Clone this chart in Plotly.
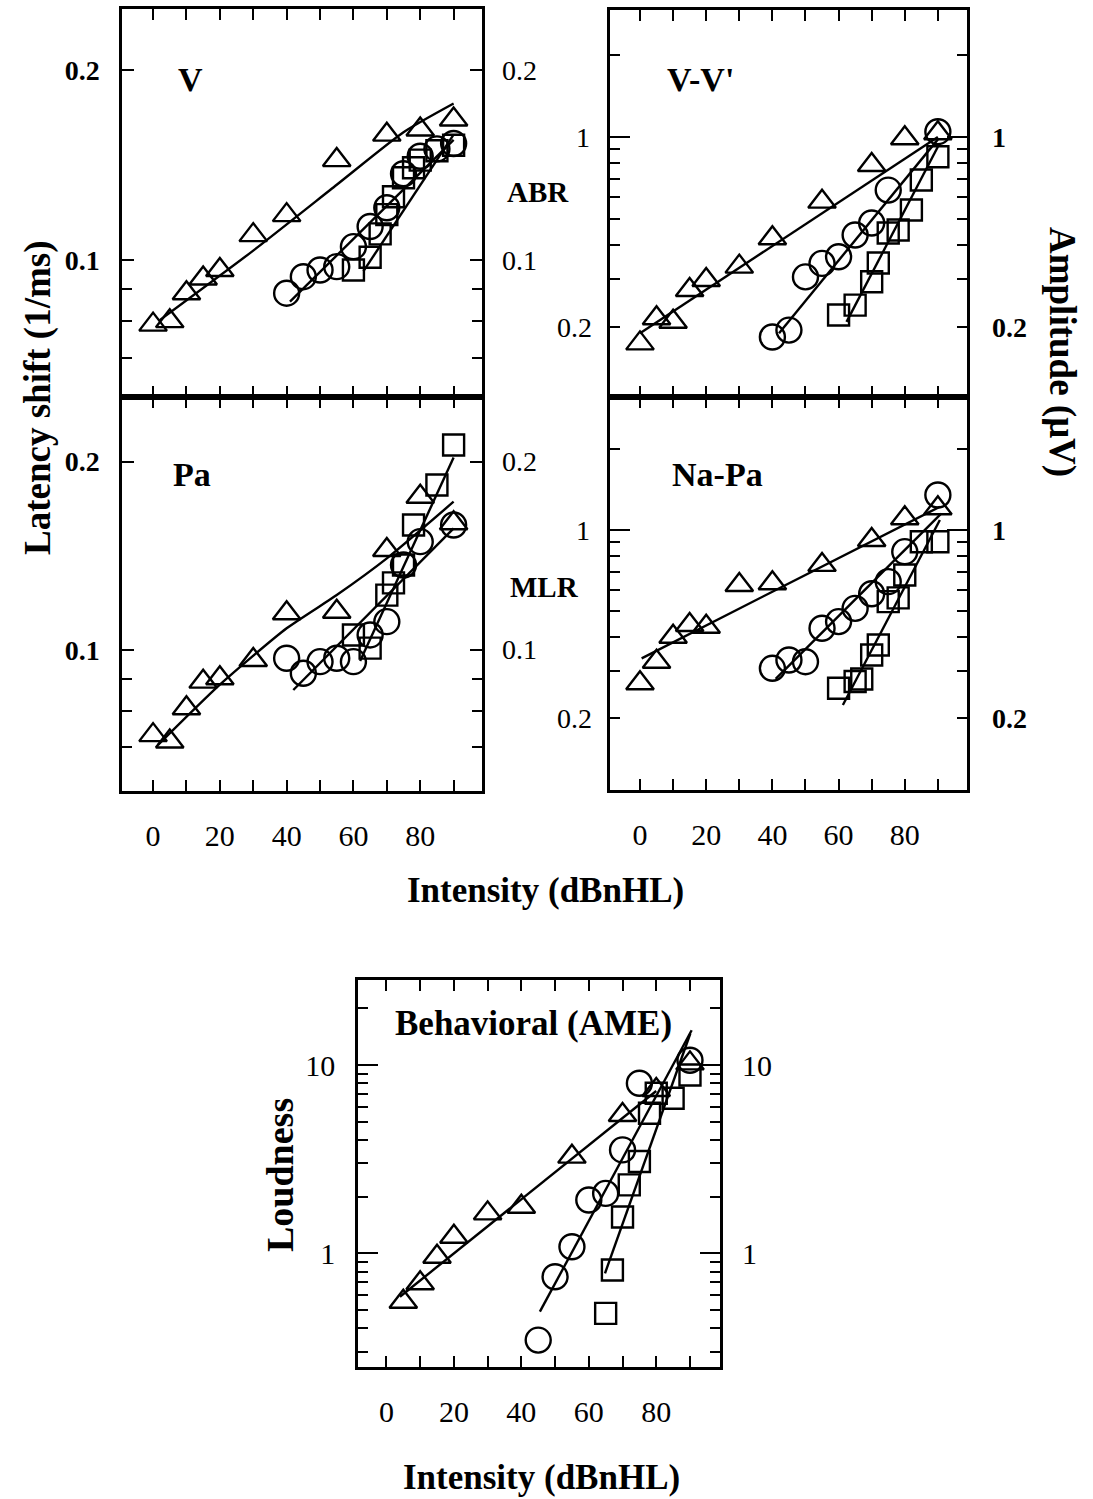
import math
import plotly.graph_objects as go

W, H = 1093, 1499
FONT = "Liberation Serif"

# ---------------- data ----------------
# Panel V (ABR latency)
v_tri_x = [0, 5, 10, 15, 20, 30, 40, 55, 70, 80, 90]
v_tri_y = [0.079, 0.080, 0.0886, 0.0935, 0.0964, 0.1095, 0.1178, 0.144, 0.158, 0.161, 0.167]
v_tri_fit_x = [2, 30, 55, 75, 90]
v_tri_fit_y = [0.0803, 0.1035, 0.1316, 0.1594, 0.177]
v_cir_x = [40, 45, 50, 55, 60, 65, 70, 75, 80, 85, 90]
v_cir_y = [0.0886, 0.0941, 0.0964, 0.0976, 0.105, 0.113, 0.121, 0.137, 0.146, 0.150, 0.153]
v_cir_fit_x = [41, 90]
v_cir_fit_y = [0.0859, 0.155]
v_sq_x = [60, 65, 68, 70, 72, 75, 78, 80, 85, 90]
v_sq_y = [0.0964, 0.101, 0.110, 0.118, 0.126, 0.135, 0.140, 0.144, 0.149, 0.152]
v_sq_fit_x = [63, 90]
v_sq_fit_y = [0.096, 0.158]

# Panel Pa (MLR latency)
pa_tri_x = [0, 5, 10, 15, 20, 30, 40, 55, 70, 80, 90]
pa_tri_y = [0.0731, 0.0714, 0.0807, 0.089, 0.0901, 0.0964, 0.1145, 0.1151, 0.1445, 0.1758, 0.1594]
pa_tri_fit_x = [1.5, 20, 40, 55, 70, 90]
pa_tri_fit_y = [0.0705, 0.088, 0.1083, 0.1224, 0.1401, 0.1726]
pa_cir_x = [40, 45, 50, 55, 60, 65, 70, 75, 80, 90]
pa_cir_y = [0.097, 0.0918, 0.0958, 0.097, 0.0958, 0.1057, 0.111, 0.1367, 0.149, 0.1584]
pa_cir_fit_x = [42, 90]
pa_cir_fit_y = [0.0863, 0.1565]
pa_sq_x = [60, 65, 70, 72, 75, 78, 85, 90]
pa_sq_y = [0.1057, 0.1007, 0.1224, 0.128, 0.1367, 0.1584, 0.1835, 0.2127]
pa_sq_fit_x = [62, 90]
pa_sq_fit_y = [0.096, 0.203]

# Panel V-V' (ABR amplitude)
vv_tri_x = [0, 5, 10, 15, 20, 30, 40, 55, 70, 80, 90]
vv_tri_y = [0.1743, 0.2155, 0.2094, 0.274, 0.298, 0.3337, 0.4241, 0.5784, 0.789, 0.989, 1.032]
vv_tri_fit_x = [0, 90]
vv_tri_fit_y = [0.19, 1.0]
vv_cir_x = [40, 45, 50, 55, 60, 65, 70, 75, 90]
vv_cir_y = [0.184, 0.195, 0.306, 0.343, 0.363, 0.436, 0.483, 0.638, 1.046]
vv_cir_fit_x = [42, 90]
vv_cir_fit_y = [0.19, 0.98]
vv_sq_x = [60, 65, 70, 72, 75, 78, 82, 85, 90]
vv_sq_y = [0.2216, 0.241, 0.2938, 0.344, 0.4436, 0.455, 0.539, 0.695, 0.846]
vv_sq_fit_x = [62.4, 90]
vv_sq_fit_y = [0.209, 0.921]

# Panel Na-Pa (MLR amplitude)
np_tri_x = [0, 5, 10, 15, 20, 30, 40, 55, 70, 80, 90]
np_tri_y = [0.27, 0.3245, 0.4018, 0.444, 0.4375, 0.625, 0.634, 0.742, 0.918, 1.105, 1.2036]
np_tri_fit_x = [0.5, 40, 90.6]
np_tri_fit_y = [0.334, 0.59, 1.22]
np_cir_x = [40, 45, 50, 55, 60, 65, 70, 75, 80, 90]
np_cir_y = [0.3066, 0.3292, 0.3245, 0.4316, 0.457, 0.512, 0.58, 0.643, 0.831, 1.349]
np_cir_fit_x = [41, 91]
np_cir_fit_y = [0.28, 1.15]
np_sq_x = [60, 65, 67, 70, 72, 75, 78, 80, 85, 90]
np_sq_y = [0.2585, 0.274, 0.28, 0.3435, 0.374, 0.542, 0.56, 0.681, 0.905, 0.905]
np_sq_fit_x = [61.3, 90.6]
np_sq_fit_y = [0.224, 1.089]

# Panel Behavioral (AME) loudness
ame_tri_x = [5, 10, 15, 20, 30, 40, 55, 70, 80, 90]
ame_tri_y = [0.553, 0.693, 0.959, 1.225, 1.63, 1.768, 3.26, 5.43, 7.36, 10.2]
ame_tri_fit_x = [4, 80]
ame_tri_fit_y = [0.588, 7.28]
ame_cir_x = [45, 50, 55, 60, 65, 70, 75, 90]
ame_cir_y = [0.346, 0.751, 1.084, 1.92, 2.08, 3.54, 8.0, 10.6]
ame_cir_fit_x = [45.5, 90.5]
ame_cir_fit_y = [0.49, 15.3]
ame_sq_x = [65, 67, 70, 72, 75, 78, 80, 85, 90]
ame_sq_y = [0.48, 0.815, 1.56, 2.31, 3.07, 5.54, 7.08, 6.66, 8.85]
ame_sq_fit_x = [64.8, 90.1]
ame_sq_fit_y = [0.783, 14.7]

x_tick_vals = [0, 10, 20, 30, 40, 50, 60, 70, 80, 90]
x_tick_text = ["0", "", "20", "", "40", "", "60", "", "80", ""]

# ---------------- figure ----------------
def fx(px):
    return px / W

def fy(py):
    return 1 - py / H

fig = go.Figure()

panels = [
    ("x", "y", v_tri_x, v_tri_y, v_tri_fit_x, v_tri_fit_y, v_cir_x, v_cir_y, v_cir_fit_x, v_cir_fit_y,
     v_sq_x, v_sq_y, v_sq_fit_x, v_sq_fit_y),
    ("x2", "y2", pa_tri_x, pa_tri_y, pa_tri_fit_x, pa_tri_fit_y, pa_cir_x, pa_cir_y, pa_cir_fit_x, pa_cir_fit_y,
     pa_sq_x, pa_sq_y, pa_sq_fit_x, pa_sq_fit_y),
    ("x3", "y3", vv_tri_x, vv_tri_y, vv_tri_fit_x, vv_tri_fit_y, vv_cir_x, vv_cir_y, vv_cir_fit_x, vv_cir_fit_y,
     vv_sq_x, vv_sq_y, vv_sq_fit_x, vv_sq_fit_y),
    ("x4", "y4", np_tri_x, np_tri_y, np_tri_fit_x, np_tri_fit_y, np_cir_x, np_cir_y, np_cir_fit_x, np_cir_fit_y,
     np_sq_x, np_sq_y, np_sq_fit_x, np_sq_fit_y),
    ("x5", "y5", ame_tri_x, ame_tri_y, ame_tri_fit_x, ame_tri_fit_y, ame_cir_x, ame_cir_y, ame_cir_fit_x, ame_cir_fit_y,
     ame_sq_x, ame_sq_y, ame_sq_fit_x, ame_sq_fit_y),
]

MW = 2.4
for (xa, ya, tx, ty, tfx, tfy, cx, cy, cfx, cfy, sx, sy, sfx, sfy) in panels:
    for fx_, fy_ in ((tfx, tfy), (cfx, cfy), (sfx, sfy)):
        fig.add_trace(go.Scatter(x=fx_, y=fy_, mode="lines", xaxis=xa, yaxis=ya,
                                 line=dict(color="black", width=2.4, shape="spline", smoothing=0.6),
                                 showlegend=False, hoverinfo="skip"))
    fig.add_trace(go.Scatter(x=sx, y=sy, mode="markers", xaxis=xa, yaxis=ya, showlegend=False,
                             marker=dict(symbol="square-open", size=21, color="black", line=dict(width=MW))))
    fig.add_trace(go.Scatter(x=cx, y=cy, mode="markers", xaxis=xa, yaxis=ya, showlegend=False,
                             marker=dict(symbol="circle-open", size=25, color="black", line=dict(width=MW))))
    fig.add_trace(go.Scatter(x=tx, y=ty, mode="markers", xaxis=xa, yaxis=ya, showlegend=False,
                             marker=dict(symbol="triangle-up-open", size=24, color="black", line=dict(width=MW))))

common_x = dict(showgrid=False, zeroline=False, showline=True, linecolor="black", linewidth=2.5,
                mirror="allticks", ticks="inside", ticklen=11, tickwidth=2, tickcolor="black",
                tickmode="array", tickvals=x_tick_vals, ticktext=x_tick_text,
                tickfont=dict(family=FONT, size=30, color="black"), ticklabelstandoff=16)
common_y = dict(showgrid=False, zeroline=False, showline=True, linecolor="black", linewidth=2.5,
                mirror="allticks", ticks="inside", tickwidth=2, tickcolor="black", type="log",
                tickmode="array")

lat_minor = dict(ticks="inside", ticklen=10, tickwidth=2, tickcolor="black", tickmode="array",
                 tickvals=[0.07, 0.08, 0.09], showgrid=False)
amp_minor = dict(ticks="inside", ticklen=10, tickwidth=2, tickcolor="black", tickmode="array",
                 tickvals=[0.2, 0.3, 0.4, 0.5, 0.6, 0.7, 0.8, 0.9, 2], showgrid=False)
loud_minor = dict(ticks="inside", ticklen=10, tickwidth=2, tickcolor="black", tickmode="array",
                  tickvals=[0.3, 0.4, 0.5, 0.6, 0.7, 0.8, 0.9, 2, 3, 4, 5, 6, 7, 8, 9, 20], showgrid=False)

lat_font = dict(family=FONT, size=28, color="black", weight="bold")

fig.update_layout(
    width=W, height=H, margin=dict(l=0, r=0, t=0, b=0),
    paper_bgcolor="white", plot_bgcolor="white", showlegend=False,
    xaxis=dict(common_x, domain=[fx(122), fx(482)], range=[-9.3, 98.5], anchor="y", showticklabels=False),
    yaxis=dict(common_y, domain=[fy(397), fy(9)], range=[-1.2171, -0.6022], anchor="x",
               tickvals=[0.1, 0.2], ticktext=["0.1", "0.2"], ticklen=12, minor=lat_minor,
               tickfont=lat_font, ticklabelstandoff=14),
    xaxis2=dict(common_x, domain=[fx(122), fx(482)], range=[-9.3, 98.5], anchor="y2"),
    yaxis2=dict(common_y, domain=[fy(791), fy(397)], range=[-1.2254, -0.5956], anchor="x2",
                tickvals=[0.1, 0.2], ticktext=["0.1", "0.2"], ticklen=12, minor=lat_minor,
                tickfont=lat_font, ticklabelstandoff=14),
    xaxis3=dict(common_x, domain=[fx(610), fx(967)], range=[-9.06, 98.8], anchor="y3", showticklabels=False),
    yaxis3=dict(common_y, domain=[fy(397), fy(10)], range=[-0.9559, 0.4669], anchor="x3",
                tickvals=[1], ticklen=20, minor=amp_minor, showticklabels=False),
    xaxis4=dict(common_x, domain=[fx(610), fx(967)], range=[-9.06, 98.8], anchor="y4"),
    yaxis4=dict(common_y, domain=[fy(790), fy(397)], range=[-0.9651, 0.4937], anchor="x4",
                tickvals=[1], ticklen=20, minor=amp_minor, showticklabels=False),
    xaxis5=dict(common_x, domain=[fx(358), fx(720)], range=[-8.43, 98.9], anchor="y5"),
    yaxis5=dict(common_y, domain=[fy(1367), fy(980)], range=[-0.6038, 1.4514], anchor="x5",
                tickvals=[1, 10], ticktext=["1", "10"], ticklen=20, minor=loud_minor,
                tickfont=dict(family=FONT, size=30, color="black"), ticklabelstandoff=14),
)

ann = []

def text(px, py, s, size=26, bold=True, xanchor="center", angle=0):
    ann.append(dict(x=fx(px), y=fy(py), xref="paper", yref="paper", text=s, showarrow=False,
                    xanchor=xanchor, yanchor="middle", textangle=angle,
                    font=dict(family=FONT, size=size, color="black",
                              weight="bold" if bold else "normal")))

def ylab(yref, val, px, s, xanchor, bold=False, size=28):
    ann.append(dict(x=fx(px), y=math.log10(val), xref="paper", yref=yref, text=s, showarrow=False,
                    xanchor=xanchor, yanchor="middle",
                    font=dict(family=FONT, size=size, color="black",
                              weight="bold" if bold else "normal")))

# panel labels
text(190, 80, "V", 34)
text(192, 475, "Pa", 34)
text(700, 80, "V-V'", 34)
text(717, 475, "Na-Pa", 34)
text(533, 1023, "Behavioral (AME)", 35)

# middle labels
text(538, 192, "ABR", 29)
text(544, 587, "MLR", 29)

# right side of latency panels
for yr in ("y", "y2"):
    ylab(yr, 0.2, 500, "0.2", "left")
    ylab(yr, 0.1, 500, "0.1", "left")
# left / right side of amplitude panels
for yr in ("y3", "y4"):
    ylab(yr, 1, 592, "1", "right")
    ylab(yr, 0.2, 594, "0.2", "right")
    ylab(yr, 1, 990, "1", "left", bold=True)
    ylab(yr, 0.2, 990, "0.2", "left", bold=True)
# right side of loudness panel
ylab("y5", 10, 740, "10", "left", size=30)
ylab("y5", 1, 740, "1", "left", size=30)

# axis titles
text(38, 398, "Latency shift (1/ms)", 37, angle=-90)
text(1062, 352, "Amplitude (\u03bcV)", 37, angle=90)
text(545, 890, "Intensity (dBnHL)", 35)
text(280, 1175, "Loudness", 38, angle=-90)
text(541, 1477, "Intensity (dBnHL)", 35)

fig.update_layout(annotations=ann)
fig.write_html("out.html")
